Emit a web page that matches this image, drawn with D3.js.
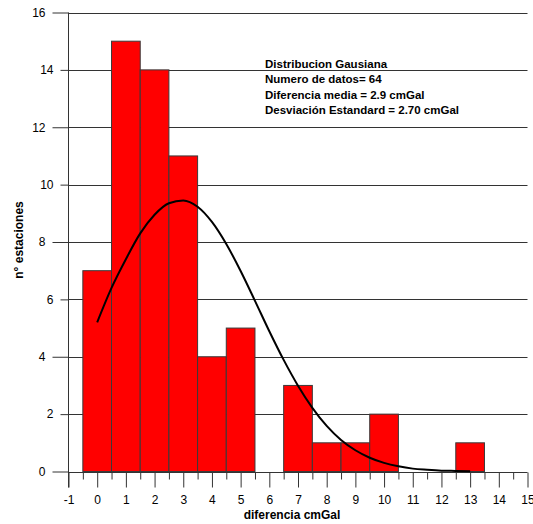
<!DOCTYPE html>
<html>
<head>
<meta charset="utf-8">
<script src="https://cdn.jsdelivr.net/npm/d3@7"></script>
<style>
  body { margin: 0; background: #fff; }
  text { font-family: "Liberation Sans", Arial, sans-serif; }
</style>
</head>
<body>
<div id="chart"></div>
<script>
var svgWidth = 533;
var svgHeight = 524;

// histogram bins (centre of bin) and counts
var binCenters = [0, 1, 2, 3, 4, 5, 6, 7, 8, 9, 10, 11, 12, 13];
var counts = [7, 15, 14, 11, 4, 5, 0, 3, 1, 1, 2, 0, 0, 1];

// gaussian curve
var curveX = [0, 0.5, 1, 1.5, 2, 2.5, 3, 3.5, 4, 4.5, 5, 5.5, 6, 6.5, 7, 7.5, 8, 8.5, 9, 9.5, 10, 10.5, 11, 11.5, 12, 12.5, 13];
var curveY = [5.2, 6.4, 7.4, 8.3, 8.95, 9.35, 9.45, 9.23, 8.7, 7.93, 6.99, 5.95, 4.89, 3.89, 2.99, 2.22, 1.59, 1.1, 0.74, 0.48, 0.3, 0.18, 0.1, 0.06, 0.03, 0.02, 0.01];

var xTicks = [-1, 0, 1, 2, 3, 4, 5, 6, 7, 8, 9, 10, 11, 12, 13, 14, 15];
var yMajorTicks = [0, 4, 8, 12, 16];
var yMinorTicks = [2, 6, 10, 14];

var infoLines = [
  "Distribucion Gausiana",
  "Numero de datos= 64",
  "Diferencia media = 2.9 cmGal",
  "Desviación Estandard = 2.70 cmGal"
];

var svg = d3.select("#chart")
            .append("svg")
            .attr("width", svgWidth)
            .attr("height", svgHeight);

var x = d3.scaleLinear().domain([-1, 15]).range([68.5, 527.5]);
var y = d3.scaleLinear().domain([0, 16]).range([471.5, 12.5]);

var gridColor = "#333";

// horizontal grid lines
svg.append("g")
   .selectAll("line")
   .data(yMajorTicks.concat(yMinorTicks))
   .enter()
   .append("line")
   .attr("x1", x(-1))
   .attr("x2", x(15))
   .attr("y1", d => Math.round(y(d)) + 0.5)
   .attr("y2", d => Math.round(y(d)) + 0.5)
   .attr("stroke", gridColor)
   .attr("stroke-width", 1);

// bars
svg.append("g")
   .selectAll("rect")
   .data(binCenters.filter((d, i) => counts[i] > 0))
   .enter()
   .append("rect")
   .attr("x", d => x(d - 0.5))
   .attr("width", d => x(d + 0.5) - x(d - 0.5))
   .attr("y", d => y(counts[binCenters.indexOf(d)]))
   .attr("height", d => y(0) - y(counts[binCenters.indexOf(d)]))
   .attr("fill", "#ff0000")
   .attr("stroke", "#3a3a3a")
   .attr("stroke-width", 1);

// fitted curve
var line = d3.line()
             .x((d, i) => x(curveX[i]))
             .y(d => y(d))
             .curve(d3.curveMonotoneX);

svg.append("path")
   .datum(curveY)
   .attr("d", line)
   .attr("fill", "none")
   .attr("stroke", "#000")
   .attr("stroke-width", 2);

// x axis: long ticks at integers, short ones at bin edges
var xAxis = svg.append("g")
               .attr("transform", `translate(0, ${Math.round(y(0)) + 0.5})`)
               .call(d3.axisBottom(x).tickValues(xTicks).tickSize(15).tickSizeOuter(0).tickPadding(8)
                       .tickFormat(d => String(d)));
xAxis.select(".domain").remove();
xAxis.selectAll("line").attr("stroke", gridColor);
xAxis.selectAll("text").attr("font-size", "12px").attr("fill", "#000");

var xMinor = svg.append("g")
                .attr("transform", `translate(0, ${Math.round(y(0)) + 0.5})`)
                .call(d3.axisBottom(x).tickValues(d3.range(-0.5, 15, 1)).tickSize(7).tickSizeOuter(0).tickFormat(""));
xMinor.select(".domain").remove();
xMinor.selectAll("line").attr("stroke", gridColor);

// y axis
var yAxis = svg.append("g")
               .attr("transform", `translate(${x(-1)}, 0)`)
               .call(d3.axisLeft(y).tickValues(yMajorTicks).tickSize(16).tickSizeOuter(0).tickPadding(7));
yAxis.select(".domain").remove();
yAxis.selectAll("line").attr("stroke", gridColor);
yAxis.selectAll("text").attr("font-size", "12px").attr("fill", "#000");

var yMinorAxis = svg.append("g")
                    .attr("transform", `translate(${x(-1)}, 0)`)
                    .call(d3.axisLeft(y).tickValues(yMinorTicks).tickSize(8).tickSizeOuter(0).tickPadding(7));
yMinorAxis.select(".domain").remove();
yMinorAxis.selectAll("line").attr("stroke", gridColor);
yMinorAxis.selectAll("text").attr("font-size", "12px").attr("fill", "#000");

// vertical axis line
svg.append("line")
   .attr("x1", x(-1))
   .attr("x2", x(-1))
   .attr("y1", y(16))
   .attr("y2", Math.round(y(0)) + 15.5)
   .attr("stroke", gridColor);

// info text
svg.append("g")
   .selectAll("text")
   .data(infoLines)
   .enter()
   .append("text")
   .attr("x", 265)
   .attr("y", (d, i) => 68 + i * 15.3)
   .attr("font-size", "11.5px")
   .attr("font-weight", "bold")
   .attr("fill", "#000")
   .text(d => d);

// axis titles
svg.append("text")
   .attr("x", 292)
   .attr("y", 519)
   .attr("text-anchor", "middle")
   .attr("font-size", "12px")
   .attr("font-weight", "bold")
   .text("diferencia cmGal");

svg.append("text")
   .attr("transform", "translate(23, 240) rotate(-90)")
   .attr("text-anchor", "middle")
   .attr("font-size", "12px")
   .attr("font-weight", "bold")
   .text("n° estaciones");
</script>
</body>
</html>
